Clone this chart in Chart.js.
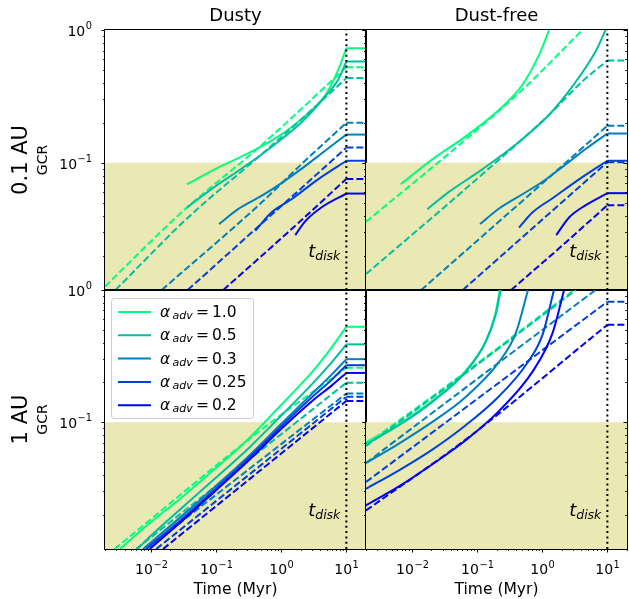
<!DOCTYPE html>
<html>
<head>
<meta charset="utf-8">
<script src="https://cdn.jsdelivr.net/npm/chart.js@4.4.0/dist/chart.umd.min.js"></script>
<style>
  body { margin: 0; background: #fff; }
  #wrap { position: relative; width: 629px; height: 599px; }
  #wrap canvas { position: absolute; }
</style>
</head>
<body>
<div id="wrap">
  <canvas id="tl" width="367" height="291" style="left:0;top:0"></canvas>
  <canvas id="tr" width="367" height="291" style="left:261px;top:0"></canvas>
  <canvas id="bl" width="367" height="339" style="left:0;top:260px"></canvas>
  <canvas id="br" width="367" height="339" style="left:261px;top:260px"></canvas>
</div>
<script>
const alphaLabels = ['1.0', '0.5', '0.3', '0.25', '0.2'];
const lineColors = ['#00ff80', '#00bfa0', '#0080bf', '#0040df', '#0000ff'];

const tMin = 0.002, tMax = 20, tDisk = 10;
const gcrMin = 0.011, gcrMax = 1, gcrLimit = 0.1;

// [time (Myr), GCR] per alpha_adv, same order as alphaLabels
const dusty01Solid = [
  [[0.036,0.0688],[0.1,0.090],[0.2,0.106],[0.5,0.133],[1,0.163],[2,0.211],[3,0.251],[5,0.335],[7.5,0.50],[10,0.729]],
  [[0.036,0.046],[0.1,0.0668],[0.2,0.0841],[0.5,0.1155],[1,0.1496],[2,0.1995],[3,0.244],[5,0.3255],[7.5,0.4217],[10,0.579]],
  [[0.112,0.0345],[0.219,0.0447],[0.5,0.0562],[1,0.070],[2,0.0891],[5,0.126],[10,0.163]],
  [[0.403,0.0307],[0.709,0.0422],[1.44,0.0531],[3.68,0.075],[10,0.1035]],
  [[1.65,0.0285],[2.3,0.0359],[4.14,0.046],[10,0.0586]]
];
const dusty01Dashed = [
  [[0.002,0.0117],[0.03,0.0424],[0.5,0.1357],[10,0.525]],
  [[0.0029,0.011],[0.0375,0.0387],[0.5,0.1155],[2.3,0.224],[10,0.434]],
  [[0.0148,0.011],[0.5,0.0501],[2.3,0.103],[10,0.2]],
  [[0.037,0.011],[0.5,0.0347],[2.3,0.0678],[10,0.13]],
  [[0.13,0.011],[1.28,0.030],[10,0.0755]]
];

const dustFree01Solid = [
  [[0.0068,0.0688],[0.0208,0.106],[0.0675,0.158],[0.219,0.251],[0.5,0.387],[0.897,0.649],[1.28,1.0]],
  [[0.0174,0.0447],[0.0374,0.0603],[0.121,0.0891],[0.394,0.137],[1.28,0.230],[2.91,0.376],[6.6,0.688],[9.4,1.0]],
  [[0.112,0.0345],[0.219,0.0452],[0.5,0.0579],[1,0.0716],[2.3,0.0972],[4.66,0.127],[10,0.166]],
  [[0.443,0.0325],[0.709,0.0422],[1.44,0.054],[3.68,0.075],[10,0.1035]],
  [[1.65,0.0285],[2.59,0.0387],[4.66,0.0479],[10,0.059]]
];
const dustFree01Dashed = [
  [[0.002,0.0359],[0.0675,0.150],[0.5,0.355],[4.14,1.0]],
  [[0.002,0.0145],[0.121,0.0818],[1.28,0.230],[4.14,0.41],[10,0.589]],
  [[0.014,0.011],[0.5,0.0516],[2.3,0.1],[10,0.19]],
  [[0.061,0.011],[1,0.0372],[10,0.101]],
  [[0.335,0.011],[2.3,0.0251],[10,0.0479]]
];

const dusty1Solid = [
  [[0.0034,0.011],[0.01,0.0175],[0.03,0.027],[0.1,0.045],[0.3,0.073],[1,0.135],[3,0.24],[6,0.37],[10,0.527]],
  [[0.0063,0.011],[0.01,0.0138],[0.03,0.0225],[0.1,0.038],[0.3,0.062],[1,0.112],[3,0.195],[6,0.285],[10,0.388]],
  [[0.0077,0.011],[0.03,0.0195],[0.1,0.033],[0.3,0.054],[1,0.097],[3,0.165],[6,0.23],[10,0.30]],
  [[0.0085,0.011],[0.03,0.0185],[0.1,0.0315],[0.3,0.052],[1,0.093],[3,0.155],[6,0.21],[10,0.27]],
  [[0.0097,0.011],[0.03,0.0178],[0.1,0.0305],[0.3,0.050],[1,0.089],[3,0.145],[6,0.19],[10,0.236]]
];
const dusty1Dashed = [
  [[0.0028,0.011],[0.5,0.088],[10,0.258]],
  [[0.006,0.011],[10,0.199]],
  [[0.0086,0.011],[10,0.165]],
  [[0.0122,0.011],[10,0.156]],
  [[0.0155,0.011],[10,0.145]]
];

const dustFree1Solid = [
  [[0.002,0.0705],[0.0064,0.097],[0.0208,0.145],[0.0675,0.245],[0.137,0.41],[0.19,0.65],[0.225,1.0]],
  [[0.002,0.0681],[0.0064,0.0949],[0.0208,0.1426],[0.0675,0.2406],[0.137,0.406],[0.194,0.646],[0.232,1.0]],
  [[0.002,0.0492],[0.0064,0.069],[0.0208,0.1006],[0.0675,0.1555],[0.219,0.2864],[0.394,0.4695],[0.608,1.0]],
  [[0.002,0.0314],[0.0064,0.0433],[0.0208,0.0621],[0.0675,0.0949],[0.219,0.1574],[0.56,0.270],[1.01,0.456],[1.52,1.0]],
  [[0.002,0.0235],[0.0064,0.0327],[0.0208,0.0481],[0.0675,0.073],[0.219,0.1218],[0.709,0.2405],[1.44,0.4695],[2.17,1.0]]
];
const dustFree1Dashed = [
  [[0.002,0.068],[0.0675,0.24],[3.08,1.0]],
  [[0.002,0.066],[0.0675,0.235],[3.3,1.0]],
  [[0.002,0.0492],[0.121,0.227],[6.6,1.0]],
  [[0.002,0.0353],[10,0.8156]],
  [[0.002,0.0215],[0.0675,0.074],[10,0.545]]
];

Chart.defaults.font.family = 'DejaVu Sans';
Chart.defaults.color = '#000';

function logTicks(lo, hi) {
  const out = [];
  for (let e = -3; e <= 1; e++) {
    for (let m = 1; m <= 9; m++) {
      const v = +(m * Math.pow(10, e)).toPrecision(6);
      if (v >= lo * 0.999 && v <= hi * 1.001) out.push({ value: v, big: m === 1, exp: e });
    }
  }
  return out;
}

const pts = arr => arr.map(([t, g]) => ({ x: t, y: g }));

function buildDatasets(solid, dashed) {
  const ds = [];
  // shaded GCR < 0.1 band
  ds.push({
    data: pts([[tMin, gcrLimit], [tMax, gcrLimit]]),
    borderWidth: 0, borderColor: 'rgba(0,0,0,0)',
    backgroundColor: '#ebe9b3', fill: 'start', tension: 0
  });
  const flats = [];
  alphaLabels.forEach((a, i) => {
    [[solid[i], []], [dashed[i], [7, 3]]].forEach(([curve, dash]) => {
      ds.push({
        data: pts(curve), borderColor: lineColors[i], borderWidth: 2,
        borderDash: dash, cubicInterpolationMode: 'monotone', fill: false
      });
      const last = curve[curve.length - 1];
      if (last[0] === tDisk) {
        flats.push({
          data: pts([[tDisk, last[1]], [tMax, last[1]]]), borderColor: lineColors[i],
          borderWidth: 2, borderDash: dash, tension: 0, fill: false
        });
      }
    });
  });
  ds.push(...flats);
  // t_disk marker
  ds.push({
    data: pts([[tDisk, gcrMin], [tDisk, gcrMax]]), borderColor: '#000',
    borderWidth: 2, borderDash: [2, 3.3], tension: 0, fill: false
  });
  ds.forEach((d, i) => { d.order = ds.length - i; d.pointRadius = 0; d.pointHoverRadius = 0; d.clip = 0; });
  return ds;
}

// "10" with a raised exponent, like matplotlib's log tick labels
function powLabel(ctx, exp) {
  const sup = String(exp).replace('-', '\u2212');
  ctx.font = '14px "DejaVu Sans"';
  const w1 = ctx.measureText('10').width;
  ctx.font = '9.8px "DejaVu Sans"';
  const w2 = ctx.measureText(sup).width;
  return { sup, w1, w2, width: w1 + w2 + 0.5 };
}
function drawPow(ctx, lab, x, base) {
  ctx.textAlign = 'left';
  ctx.font = '14px "DejaVu Sans"';
  ctx.fillText('10', x, base);
  ctx.font = '9.8px "DejaVu Sans"';
  ctx.fillText(lab.sup, x + lab.w1 + 0.5, base - 6.2);
}

const panelDecor = {
  id: 'panelDecor',
  afterDraw(chart, args, o) {
    const { ctx, chartArea: a } = chart;
    const xs = chart.scales.x, ys = chart.scales.y;
    ctx.save();
    ctx.strokeStyle = '#000';
    ctx.fillStyle = '#000';
    ctx.textBaseline = 'alphabetic';
    // frame
    ctx.lineWidth = 1;
    ctx.strokeRect(a.left - 0.5, a.top - 0.5, a.right - a.left + 1, a.bottom - a.top + 1);
    // y ticks: outward on left, inward on right
    ys.ticks.forEach(t => {
      const py = Math.round(ys.getPixelForValue(t.value)) + 0.5;
      if (py < a.top - 1 || py > a.bottom + 1) return;
      const len = t.big ? 3.5 : 2;
      ctx.lineWidth = t.big ? 1 : 0.8;
      ctx.beginPath();
      ctx.moveTo(a.left - len, py); ctx.lineTo(a.left, py);
      ctx.moveTo(a.right - len, py); ctx.lineTo(a.right, py);
      ctx.stroke();
      if (o.yLabels && t.big) {
        const lab = powLabel(ctx, t.exp);
        drawPow(ctx, lab, a.left - 13 - lab.width, py + 5);
      }
    });
    if (o.xTicks) {
      xs.ticks.forEach(t => {
        const px = Math.round(xs.getPixelForValue(t.value)) + 0.5;
        if (px < a.left - 1 || px > a.right + 1) return;
        const len = t.big ? 3.5 : 2;
        ctx.lineWidth = t.big ? 1 : 0.8;
        ctx.beginPath();
        ctx.moveTo(px, a.bottom); ctx.lineTo(px, a.bottom + len);
        ctx.stroke();
        if (t.big) {
          const lab = powLabel(ctx, t.exp);
          drawPow(ctx, lab, px - lab.width / 2, a.bottom + 25);
        }
      });
    }
    // t_disk label
    const right = xs.getPixelForValue(tDisk) - 6;
    const base = ys.getPixelForValue(0.02) + 1.5;
    ctx.textAlign = 'left';
    ctx.font = 'italic 12.5px "DejaVu Sans"';
    const wSub = ctx.measureText('disk').width;
    ctx.font = 'italic 18px "DejaVu Sans"';
    const wT = ctx.measureText('t').width;
    ctx.fillText('t', right - wSub - wT, base);
    ctx.font = 'italic 12.5px "DejaVu Sans"';
    ctx.fillText('disk', right - wSub, base + 3);
    // column title
    if (o.title) {
      ctx.font = '18px "DejaVu Sans"';
      ctx.textAlign = 'center';
      ctx.fillText(o.title, (a.left + a.right) / 2, a.top - 9.5);
    }
    // row label
    if (o.row) {
      const cy = (a.top + a.bottom) / 2;
      ctx.textAlign = 'center';
      ctx.save();
      ctx.translate(27, cy); ctx.rotate(-Math.PI / 2);
      ctx.font = '21px "DejaVu Sans"';
      ctx.fillText(o.row, 0, 0);
      ctx.restore();
      ctx.save();
      ctx.translate(47, cy); ctx.rotate(-Math.PI / 2);
      ctx.font = '14px "DejaVu Sans"';
      ctx.fillText('GCR', 0, 0);
      ctx.restore();
    }
    // legend
    if (o.legend) {
      const bx = a.left + 6, by = a.top + 8, bw = 142, bh = 120;
      ctx.fillStyle = 'rgba(255,255,255,0.8)';
      ctx.strokeStyle = '#cccccc';
      ctx.lineWidth = 1;
      ctx.beginPath();
      ctx.roundRect(bx + 0.5, by + 0.5, bw, bh, 3);
      ctx.fill(); ctx.stroke();
      alphaLabels.forEach((lab, i) => {
        const y = by + 14 + i * 23.3;
        ctx.strokeStyle = lineColors[i];
        ctx.lineWidth = 2;
        ctx.beginPath();
        ctx.moveTo(bx + 7, y); ctx.lineTo(bx + 40, y);
        ctx.stroke();
        ctx.fillStyle = '#000';
        ctx.textAlign = 'left';
        ctx.font = 'italic 15.5px "DejaVu Sans"';
        ctx.fillText('\u03B1', bx + 49, y + 5);
        ctx.font = 'italic 11px "DejaVu Sans"';
        ctx.fillText('adv', bx + 61.5, y + 7);
        ctx.font = '15.5px "DejaVu Sans"';
        ctx.fillText('=', bx + 85, y + 5);
        ctx.fillText(lab, bx + 101, y + 5);
      });
    }
    ctx.restore();
  }
};

function panel(id, solid, dashed, deco) {
  const showX = !!deco.xTicks;
  new Chart(document.getElementById(id), {
    type: 'line',
    data: { datasets: buildDatasets(solid, dashed) },
    options: {
      responsive: false,
      animation: false,
      events: [],
      layout: { padding: { top: 30, right: 1, left: 0, bottom: 0 } },
      plugins: { legend: { display: false }, tooltip: { enabled: false }, panelDecor: deco },
      scales: {
        x: {
          type: 'logarithmic', min: tMin, max: tMax, position: 'bottom',
          grid: { display: false, drawTicks: false, tickLength: 0 },
          border: { display: false },
          afterBuildTicks: s => { s.ticks = logTicks(tMin, tMax); },
          afterFit: s => {
            s.height = showX ? 50 : 1;
            s.paddingLeft = 0; s.paddingRight = 0; s.paddingTop = 0; s.paddingBottom = 0;
          },
          ticks: { display: false },
          title: { display: showX, text: 'Time (Myr)', font: { size: 15.5 }, padding: { top: 0, bottom: 0 } }
        },
        y: {
          type: 'logarithmic', min: gcrMin, max: gcrMax,
          grid: { display: false, drawTicks: false, tickLength: 0 },
          border: { display: false },
          afterBuildTicks: s => { s.ticks = logTicks(gcrMin, gcrMax); },
          afterFit: s => {
            s.width = 105;
            s.paddingLeft = 0; s.paddingRight = 0; s.paddingTop = 0; s.paddingBottom = 0;
          },
          ticks: { display: false }
        }
      }
    },
    plugins: [panelDecor]
  });
}

panel('tl', dusty01Solid, dusty01Dashed, { title: 'Dusty', row: '0.1 AU', yLabels: true });
panel('tr', dustFree01Solid, dustFree01Dashed, { title: 'Dust-free' });
panel('bl', dusty1Solid, dusty1Dashed, { row: '1 AU', yLabels: true, xTicks: true, legend: true });
panel('br', dustFree1Solid, dustFree1Dashed, { xTicks: true });
</script>
</body>
</html>
